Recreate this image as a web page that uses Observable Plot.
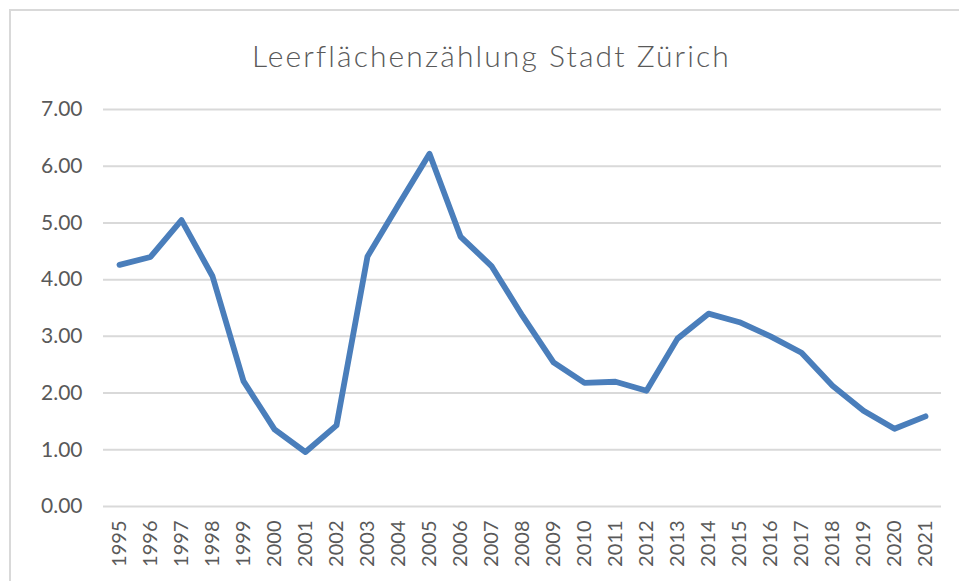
<!DOCTYPE html>
<html>
<head>
<meta charset="utf-8">
<script src="https://cdn.jsdelivr.net/npm/d3@7"></script>
<script src="https://cdn.jsdelivr.net/npm/@observablehq/plot@0.6"></script>
<style>
  html, body { margin: 0; padding: 0; background: #fff; }
  #wrap { position: relative; width: 959px; height: 581px; overflow: hidden; }
  #frame { position: absolute; left: 9px; top: 9px; width: 1000px; height: 1000px;
           border-left: 2px solid #d9d9d9; border-top: 2px solid #d9d9d9; }
  #title { position: absolute; left: 22px; top: 0; width: 939px; height: 80px;
           font-family: "Lato", sans-serif; font-size: 30px; font-weight: 300; letter-spacing: 2.1px;
           color: #595959; text-align: center; line-height: 30px; padding-top: 40px; box-sizing: border-box; }
  #chart { position: absolute; left: 0; top: 80px; }
</style>
</head>
<body>
<div id="wrap">
  <div id="frame"></div>
  <div id="title">Leerflächenzählung Stadt Zürich</div>
  <div id="chart"></div>
</div>
<script>
const years = ["1995","1996","1997","1998","1999","2000","2001","2002","2003","2004","2005","2006","2007","2008","2009","2010","2011","2012","2013","2014","2015","2016","2017","2018","2019","2020","2021"];
const values = [4.26, 4.40, 5.05, 4.06, 2.21, 1.36, 0.96, 1.43, 4.41, 5.32, 6.22, 4.76, 4.24, 3.36, 2.54, 2.18, 2.20, 2.04, 2.96, 3.40, 3.25, 3.00, 2.71, 2.13, 1.69, 1.37, 1.59];
const yTicks = [0, 1, 2, 3, 4, 5, 6, 7];

const data = years.map((y, i) => ({year: y, value: values[i]}));

const chart = Plot.plot({
  width: 959,
  height: 501,
  marginLeft: 103,
  marginRight: 18,
  marginTop: 29,
  marginBottom: 75,
  style: {fontFamily: "Lato, sans-serif", fontSize: "20px", color: "#595959", background: "transparent"},
  x: {type: "point", domain: years, padding: 0.5, label: null},
  y: {domain: [0, 7], label: null},
  marks: [
    Plot.gridY(yTicks, {stroke: "#d9d9d9", strokeOpacity: 1, strokeWidth: 2}),
    Plot.axisY(yTicks, {tickSize: 0, tickPadding: 21, tickFormat: d => d.toFixed(2), label: null, fontSize: 21}),
    Plot.axisX({tickSize: 0, tickPadding: 14, tickRotate: -90, label: null}),
    Plot.line(data, {x: "year", y: "value", stroke: "#4a7ebb", strokeWidth: 5.8, strokeLinejoin: "round", strokeLinecap: "round"})
  ]
});
document.getElementById("chart").appendChild(chart);
</script>
</body>
</html>
